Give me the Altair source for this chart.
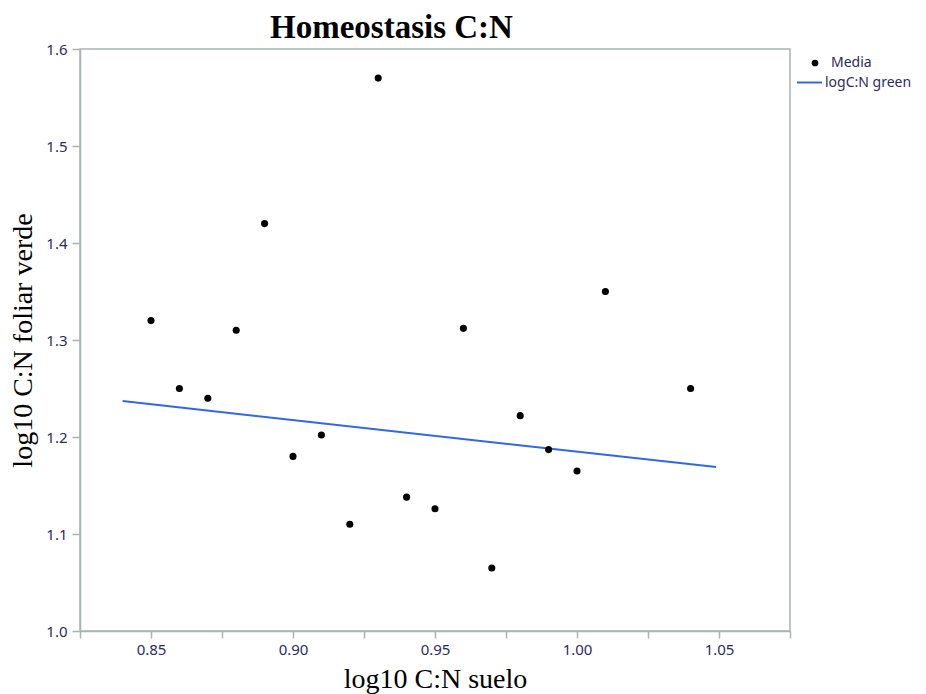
import altair as alt
import pandas as pd

# Data
soil_cn = [0.85, 0.86, 0.87, 0.88, 0.89, 0.90, 0.91, 0.92, 0.93, 0.94,
           0.95, 0.96, 0.97, 0.98, 0.99, 1.00, 1.01, 1.04]
leaf_cn = [1.320, 1.250, 1.240, 1.310, 1.420, 1.180, 1.202, 1.110, 1.570, 1.138,
           1.126, 1.312, 1.065, 1.222, 1.187, 1.165, 1.350, 1.250]

fit_x = [0.840, 1.049]
fit_y = [1.237, 1.169]

x_ticks = [0.825, 0.85, 0.875, 0.90, 0.925, 0.95, 0.975, 1.00, 1.025, 1.05, 1.075]
y_ticks = [1.0, 1.1, 1.2, 1.3, 1.4, 1.5, 1.6]

pts = pd.DataFrame({"x": soil_cn, "y": leaf_cn, "serie": "Media"})
fit = pd.DataFrame({"x": fit_x, "y": fit_y, "serie": "logC:N green"})

label_color = "#2c2c5e"
frame_color = "#a9b3b2"

x_enc = alt.X(
    "x:Q",
    scale=alt.Scale(domain=[0.825, 1.075], nice=False, zero=False),
    axis=alt.Axis(
        title="log10 C:N suelo",
        values=x_ticks,
        labelExpr="round(datum.value*1000) % 50 == 0 ? format(datum.value, '.2f') : ''",
        grid=False,
        tickSize=7,
        labelPadding=4,
        titlePadding=8,
    ),
)
y_enc = alt.Y(
    "y:Q",
    scale=alt.Scale(domain=[1.0, 1.6], nice=False, zero=False),
    axis=alt.Axis(
        title="log10 C:N foliar verde",
        values=y_ticks,
        format=".1f",
        grid=False,
        tickSize=8,
        labelPadding=5,
        titlePadding=8,
    ),
)

line = alt.Chart(fit).mark_line(strokeWidth=2).encode(
    x=x_enc,
    y=y_enc,
    stroke=alt.Stroke(
        "serie:N",
        scale=alt.Scale(domain=["logC:N green"], range=["#3366e6"]),
        legend=alt.Legend(
            title=None, orient="none", legendX=716, legendY=20,
            symbolType="stroke", symbolSize=625, symbolStrokeWidth=2,
            labelOffset=2, padding=0,
        ),
    ),
)

points = alt.Chart(pts).mark_circle(size=50, opacity=1).encode(
    x="x:Q",
    y="y:Q",
    color=alt.Color(
        "serie:N",
        scale=alt.Scale(domain=["Media"], range=["black"]),
        legend=alt.Legend(
            title=None, orient="none", legendX=728, legendY=7,
            symbolType="circle", symbolSize=45, labelOffset=9, padding=0,
        ),
    ),
)

chart = (
    alt.layer(line, points)
    .resolve_scale(color="independent", stroke="independent")
    .properties(
        width=710,
        height=582,
        autosize=alt.AutoSizeParams(type="none"),
        padding={"left": 72, "top": 41, "right": 128, "bottom": 70},
        background="white",
        title=alt.Title(
            "Homeostasis C:N",
            anchor="start",
            frame="group",
            dx=190,
            dy=15,
            offset=12,
            font="Liberation Serif",
            fontSize=33,
            fontWeight="bold",
            color="black",
        ),
    )
    .configure_view(stroke=frame_color, strokeWidth=1.5)
    .configure_axis(
        domainColor=frame_color,
        domainWidth=1.5,
        tickColor=frame_color,
        tickWidth=1.5,
        labelFont="Noto Sans",
        labelFontSize=15,
        labelColor=label_color,
        titleFont="Liberation Serif",
        titleFontSize=28,
        titleFontWeight="normal",
        titleColor="black",
    )
    .configure_legend(
        labelFont="Noto Sans",
        labelFontSize=14,
        labelColor=label_color,
    )
)

chart.save("out.html", embed_options={"renderer": "svg", "actions": False})
